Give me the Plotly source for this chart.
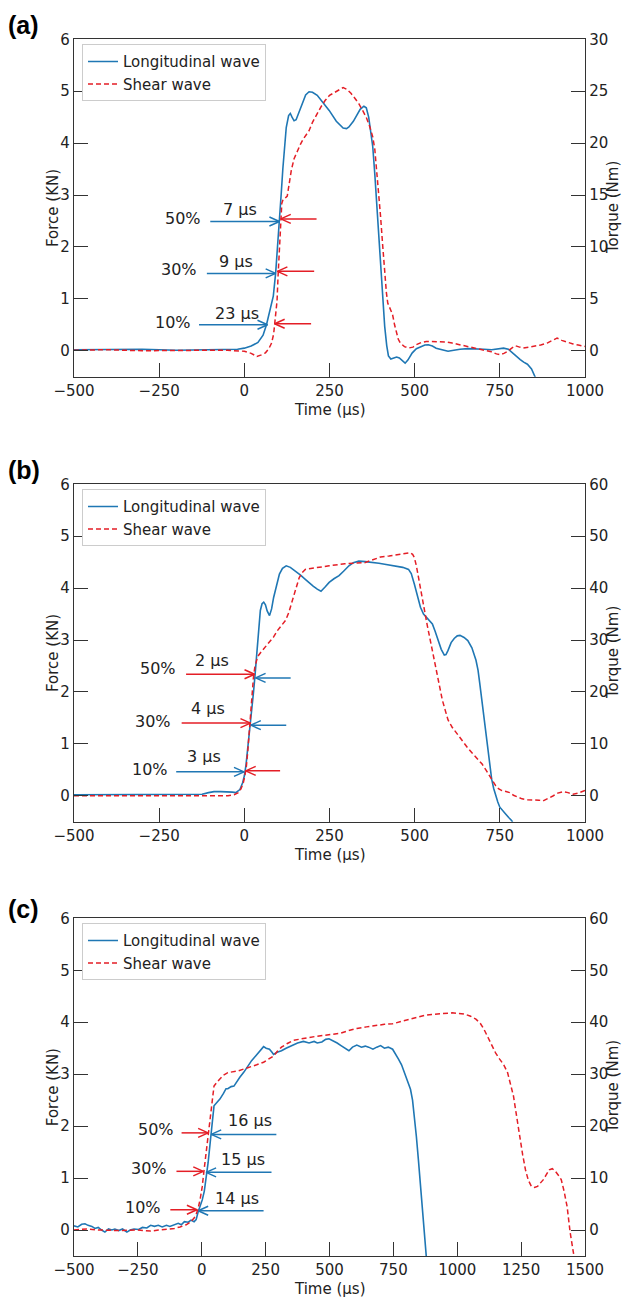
import plotly.graph_objects as go

# ---------------- data (time in µs, force in kN, torque in Nm) ----------------
LONG_A = [(-500,0.02),(-400,0.02),(-300,0.03),(-200,0.01),(-100,0.02),(-50,0.02),(-20,0.03),(0,0.05),(20,0.09),
          (40,0.16),(55,0.3),(65,0.5),(75,0.75),(85,1.05),(92,1.5),(98,2.0),(103,2.5),(108,3.0),(113,3.5),(118,3.95),
          (123,4.3),(130,4.53),(135,4.57),(140,4.5),(146,4.43),(152,4.45),(161,4.6),(170,4.78),(180,4.93),(190,4.99),
          (200,4.98),(214,4.92),(230,4.79),(249,4.63),(270,4.42),(290,4.29),(300,4.28),(307,4.31),(320,4.42),(330,4.54),
          (340,4.65),(351,4.71),(358,4.68),(365,4.5),(372,4.2),(377,3.93),(383,3.4),(388,2.9),(394,2.25),(400,1.62),
          (406,1.0),(412,0.47),(418,0.1),(423,-0.1),(430,-0.16),(440,-0.14),(447,-0.12),(455,-0.14),(461,-0.18),
          (467,-0.22),(472,-0.24),(480,-0.18),(493,-0.04),(505,0.04),(517,0.08),(530,0.11),(540,0.115),(552,0.09),
          (563,0.05),(580,0.02),(598,-0.01),(615,0.01),(633,0.03),(656,0.04),(680,0.04),(703,0.03),(726,0.02),
          (745,0.04),(761,0.05),(775,0.03),(785,-0.03),(796,-0.1),(810,-0.17),(820,-0.22),(831,-0.26),(843,-0.35),
          (854,-0.5),(860,-0.6)]
SHEAR_A = [(-500,0.05),(-400,0.1),(-300,0.0),(-200,0.05),(-100,0.05),(-50,0.05),(-20,0.0),(0,-0.05),(20,-0.25),
           (37,-0.55),(50,-0.4),(62,-0.2),(72,0.2),(80,0.74),(86,1.6),(90,2.7),(93,3.6),(96,4.8),(99,7.2),(103,9.8),
           (107,12.7),(110,14.2),(114,14.6),(120,14.7),(126,14.9),(132,16.1),(138,17.4),(146,18.5),(156,19.3),
           (165,19.9),(173,20.4),(182,20.8),(190,21.2),(200,22.0),(214,22.9),(225,23.5),(237,24.1),(250,24.6),
           (266,24.9),(280,25.2),(290,25.35),(300,25.2),(313,24.8),(325,24.3),(336,23.8),(348,23.1),(359,22.4),
           (368,21.6),(377,20.6),(383,19.4),(388,17.7),(394,15.4),(400,12.9),(406,10.2),(412,7.5),(417,5.6),
           (421,4.6),(428,4.0),(435,3.5),(441,2.5),(447,1.7),(452,1.1),(458,0.74),(470,0.4),(482,0.26),(495,0.35),
           (505,0.58),(520,0.8),(534,0.9),(555,0.9),(575,0.9),(592,0.85),(610,0.74),(630,0.6),(656,0.42),(680,0.25),
           (703,0.1),(725,-0.1),(740,-0.3),(750,-0.38),(762,-0.25),(773,-0.06),(785,0.25),(796,0.48),(808,0.35),
           (819,0.26),(835,0.35),(854,0.42),(870,0.55),(889,0.74),(905,1.0),(918,1.22),(932,1.0),(948,0.8),
           (965,0.65),(980,0.55),(1000,0.42)]

LONG_B = [(-500,0.02),(-400,0.02),(-300,0.02),(-200,0.03),(-150,0.03),(-124,0.03),(-105,0.06),(-89,0.08),(-70,0.08),
          (-54,0.08),(-35,0.07),(-25,0.06),(-13,0.12),(-5,0.25),(0,0.38),(5,0.6),(10,0.89),(16,1.25),(22,1.66),
          (27,2.0),(31,2.29),(35,2.65),(39,3.0),(43,3.3),(47,3.57),(52,3.7),(57,3.73),(62,3.68),(67,3.56),(74,3.47),
          (80,3.6),(86,3.82),(95,4.08),(103,4.27),(112,4.38),(123,4.43),(135,4.4),(150,4.33),(165,4.25),(179,4.17),
          (190,4.1),(202,4.04),(214,3.98),(225,3.94),(237,4.02),(249,4.11),(263,4.18),(278,4.24),(292,4.33),
          (307,4.43),(320,4.49),(336,4.52),(355,4.51),(377,4.5),(395,4.48),(412,4.46),(430,4.44),(447,4.43),
          (465,4.4),(482,4.36),(490,4.28),(499,4.08),(508,3.85),(517,3.63),(526,3.5),(534,3.44),(543,3.38),
          (552,3.31),(560,3.17),(569,2.99),(578,2.82),(587,2.71),(592,2.72),(598,2.8),(607,2.95),(616,3.03),
          (625,3.08),(633,3.09),(645,3.05),(656,2.99),(668,2.85),(680,2.61),(686,2.42),(691,2.17),(697,1.85),
          (703,1.53),(709,1.2),(715,0.89),(720,0.6),(726,0.32),(732,0.14),(738,0.0),(744,-0.12),(750,-0.22),
          (758,-0.29),(767,-0.35),(776,-0.42),(785,-0.48),(790,-0.55)]
SHEAR_B = [(-500,0.0),(-400,0.0),(-300,0.1),(-200,0.1),(-100,0.0),(-48,0.0),(-30,0.2),(-17,0.6),(-10,1.3),(-3,2.5),
           (2,4.0),(6,5.7),(10,8.5),(14,12.1),(18,15.5),(23,20.4),(27,23.0),(31,24.8),(35,26.0),(39,26.8),(48,27.6),
           (57,28.3),(66,29.0),(74,29.6),(86,30.6),(97,31.8),(110,32.8),(121,33.8),(130,35.2),(138,36.9),(144,38.2),
           (150,39.5),(155,40.8),(161,42.0),(170,43.0),(179,43.6),(195,43.8),(214,43.9),(230,44.1),(249,44.3),
           (270,44.5),(295,44.7),(320,44.8),(353,44.9),(375,45.4),(400,46.0),(425,46.2),(447,46.4),(467,46.6),
           (487,46.8),(494,46.5),(499,45.9),(505,44.3),(511,42.0),(520,38.8),(528,35.7),(537,32.8),(546,29.9),
           (555,27.0),(563,24.2),(572,21.3),(581,18.5),(590,16.4),(598,14.6),(610,13.2),(622,12.1),(633,11.1),
           (645,10.2),(656,9.2),(668,8.3),(683,7.2),(698,6.1),(710,4.9),(721,3.8),(730,2.8),(738,1.9),(747,1.3),
           (756,1.0),(768,0.8),(779,0.6),(790,0.1),(802,-0.3),(815,-0.6),(831,-0.76),(850,-0.75),(865,-0.85),
           (877,-1.0),(890,-0.6),(907,0.0),(920,0.5),(936,0.8),(950,0.6),(965,0.3),(980,0.5),(1000,1.0)]

LONG_C = [(-500,0.08),(-485,0.06),(-470,0.11),(-457,0.12),(-445,0.09),(-430,0.07),(-418,0.03),(-405,0.05),(-392,0.0),
          (-379,-0.04),(-365,0.02),(-352,0.0),(-340,0.02),(-325,-0.01),(-310,0.02),(-293,-0.04),(-280,0.0),
          (-265,0.02),(-247,0.01),(-232,0.05),(-215,0.04),(-200,0.09),(-185,0.07),(-170,0.09),(-155,0.06),
          (-138,0.09),(-125,0.07),(-110,0.1),(-92,0.13),(-80,0.1),(-68,0.16),(-53,0.15),(-42,0.19),(-30,0.16),
          (-22,0.2),(-14,0.35),(-6,0.45),(2,0.58),(10,0.75),(17,0.97),(25,1.3),(33,1.68),(40,2.05),(48,2.39),
          (60,2.46),(71,2.52),(85,2.63),(95,2.72),(102,2.72),(115,2.76),(126,2.77),(138,2.87),(149,2.94),
          (165,3.04),(180,3.16),(195,3.26),(211,3.35),(225,3.44),(242,3.53),(252,3.5),(265,3.48),(275,3.42),
          (281,3.38),(295,3.42),(312,3.45),(330,3.5),(351,3.55),(375,3.6),(398,3.63),(420,3.6),(440,3.63),
          (452,3.6),(470,3.62),(485,3.67),(498,3.68),(512,3.65),(530,3.6),(545,3.55),(560,3.5),(576,3.45),
          (590,3.52),(607,3.56),(625,3.52),(640,3.54),(653,3.52),(670,3.48),(685,3.52),(700,3.55),(715,3.5),
          (730,3.52),(747,3.48),(760,3.38),(770,3.29),(782,3.18),(793,3.03),(805,2.9),(817,2.71),(825,2.5),
          (832,2.19),(840,1.8),(848,1.35),(855,0.95),(863,0.52),(871,0.0),(879,-0.52)]
SHEAR_C = [(-500,0.0),(-450,0.2),(-400,0.0),(-325,-0.1),(-250,0.0),(-200,-0.2),(-169,0.0),(-130,0.1),(-107,0.3),
           (-85,0.6),(-61,1.0),(-45,1.5),(-30,2.3),(-22,3.0),(-14,4.2),(-6,6.0),(2,8.4),(9,11.5),(17,14.8),
           (25,18.5),(33,21.9),(40,25.0),(48,27.7),(60,28.5),(71,29.0),(85,29.8),(102,30.3),(120,30.4),(141,30.6),
           (165,31.0),(188,31.3),(215,31.8),(242,32.3),(260,32.8),(281,33.5),(296,34.4),(312,35.2),(335,35.9),
           (359,36.5),(390,36.8),(421,37.1),(450,37.3),(483,37.5),(515,37.7),(545,37.9),(575,38.4),(607,38.8),
           (645,39.1),(684,39.4),(715,39.6),(747,39.7),(778,40.1),(809,40.5),(840,40.9),(871,41.3),(900,41.5),
           (933,41.6),(960,41.8),(980,41.8),(1000,41.7),(1026,41.6),(1050,41.2),(1073,40.6),(1090,39.8),
           (1104,38.7),(1120,37.1),(1135,35.5),(1150,34.1),(1166,32.9),(1182,31.8),(1197,30.3),(1208,28.3),
           (1220,25.8),(1232,22.0),(1244,18.1),(1256,14.5),(1267,11.6),(1278,9.6),(1290,8.4),(1302,8.2),
           (1314,8.4),(1325,9.0),(1337,9.7),(1348,10.6),(1360,11.6),(1372,11.8),(1384,11.3),(1395,10.6),
           (1407,9.7),(1418,7.5),(1430,4.5),(1442,-0.5),(1454,-4.5),(1460,-6.0)]

# rise-time annotations: (text, x, y) in force units
PCT_A = [("50%", -180, 2.55), ("30%", -191, 1.56), ("10%", -209, 0.54)]
DT_A = [("7 µs", -13, 2.72), ("9 µs", -25, 1.72), ("23 µs", -21, 0.71)]
ARR_A = [("blue", -100, 103, 2.49), ("red", 212, 107, 2.54),
         ("blue", -110, 92, 1.49), ("red", 205, 97, 1.53),
         ("blue", -133, 68, 0.50), ("red", 196, 89, 0.52)]
PCT_B = [("50%", -252, 2.45), ("30%", -269, 1.43), ("10%", -278, 0.51)]
DT_B = [("2 µs", -95, 2.61), ("4 µs", -107, 1.69), ("3 µs", -118, 0.75)]
ARR_B = [("red", -171, 30, 2.34), ("blue", 136, 33, 2.27),
         ("red", -184, 18, 1.40), ("blue", 123, 19, 1.36),
         ("blue", -200, -1, 0.46), ("red", 105, 4, 0.48)]
PCT_C = [("50%", -180, 1.94), ("30%", -208, 1.18), ("10%", -231, 0.43)]
DT_C = [("16 µs", 188, 2.10), ("15 µs", 160, 1.35), ("14 µs", 138, 0.61)]
ARR_C = [("red", -79, 25, 1.87), ("blue", 292, 37, 1.84),
         ("red", -99, 6, 1.13), ("blue", 273, 17, 1.11),
         ("red", -123, -19, 0.39), ("blue", 242, -14, 0.37)]

PANEL_LABELS = ["(a)", "(b)", "(c)"]
X_RANGES = [[-500, 1000], [-500, 1000], [-500, 1500]]
X_TICKS = [list(range(-500, 1001, 250)), list(range(-500, 1001, 250)), list(range(-500, 1501, 250))]
TQ_RANGES = [[-2.5, 30], [-5, 60], [-5, 60]]
TQ_TICKS = [list(range(0, 31, 5)), list(range(0, 61, 10)), list(range(0, 61, 10))]
F_RANGE = [-0.5, 6]
F_TICKS = [0, 1, 2, 3, 4, 5, 6]

# ---------------- styling ----------------
W, H = 622, 1300
BLUE = "#1f77b4"
RED = "#e41e26"
AX = "#333333"
TXT = "#222222"
FONT = "DejaVu Sans"
XL, XR = 74, 585
PANEL_PX = [(39.3, 376.7), (484.3, 821.7), (918.3, 1256.0)]
LABEL_Y = [25, 470, 909]

fig = go.Figure()
layout = dict(width=W, height=H, margin=dict(l=0, r=0, t=0, b=0, autoexpand=False),
              paper_bgcolor="white", plot_bgcolor="white", template="none",
              font=dict(family=FONT, size=15, color=TXT), showlegend=True)
annotations = []

panels = [(LONG_A, SHEAR_A, PCT_A, DT_A, ARR_A), (LONG_B, SHEAR_B, PCT_B, DT_B, ARR_B),
          (LONG_C, SHEAR_C, PCT_C, DT_C, ARR_C)]

for i, (lg, sh, pct, dt, arr) in enumerate(panels):
    top, bot = PANEL_PX[i]
    xn = "x" if i == 0 else f"x{i+1}"
    yl = "y" if i == 0 else f"y{2*i+1}"
    yr = f"y{2*i+2}"
    leg = "legend" if i == 0 else f"legend{i+1}"
    xkey = "xaxis" if i == 0 else f"xaxis{i+1}"
    ylkey = "yaxis" if i == 0 else f"yaxis{2*i+1}"
    yrkey = f"yaxis{2*i+2}"
    dom_y = [1 - bot / H, 1 - top / H]

    fig.add_trace(go.Scatter(x=[p[0] for p in lg], y=[p[1] for p in lg], mode="lines",
                             name="Longitudinal wave", line=dict(color=BLUE, width=1.6),
                             xaxis=xn, yaxis=yl, legend=leg))
    fig.add_trace(go.Scatter(x=[p[0] for p in sh], y=[p[1] for p in sh], mode="lines",
                             name="Shear wave", line=dict(color=RED, width=1.5, dash="5px,3px"),
                             xaxis=xn, yaxis=yr, legend=leg))

    # arrows drawn from the annotation lists, barbs sized in pixels via the axis scales
    sx = (XR - XL) / (X_RANGES[i][1] - X_RANGES[i][0])
    sy = (bot - top) / (F_RANGE[1] - F_RANGE[0])
    for col in ("blue", "red"):
        xs, ys = [], []
        for c, x0, x1, y in arr:
            if c != col:
                continue
            d = 1 if x1 > x0 else -1
            bx = x1 - d * 10 / sx
            dy = 4.5 / sy
            xs += [x0, x1, None, bx, x1, bx, None]
            ys += [y, y, None, y + dy, y, y - dy, None]
        fig.add_trace(go.Scatter(x=xs, y=ys, mode="lines", showlegend=False, hoverinfo="skip",
                                 line=dict(color=BLUE if col == "blue" else RED, width=1.5),
                                 xaxis=xn, yaxis=yl))

    for t, x, y in pct + dt:
        annotations.append(dict(text=t, x=x, y=y, xref=xn, yref=yl, showarrow=False,
                                font=dict(size=16, color=TXT, family=FONT),
                                xanchor="center", yanchor="middle"))

    axis_common = dict(showgrid=False, zeroline=False, showline=True, linecolor=AX, linewidth=1.3,
                       ticks="inside", ticklen=14, tickwidth=1.3, tickcolor=AX, automargin=False,
                       tickfont=dict(size=15, color=TXT, family=FONT))
    layout[xkey] = dict(axis_common, domain=[XL / W, XR / W], range=X_RANGES[i], tickvals=X_TICKS[i],
                        ticktext=[str(v).replace("-", "\u2212") for v in X_TICKS[i]],
                        anchor=yl, mirror=True)
    layout[ylkey] = dict(axis_common, domain=dom_y, range=F_RANGE, tickvals=F_TICKS, anchor=xn)
    layout[yrkey] = dict(axis_common, range=TQ_RANGES[i], tickvals=TQ_TICKS[i], overlaying=yl,
                         side="right", anchor=xn)
    layout[leg] = dict(x=82 / W, y=1 - (top + 5) / H, xanchor="left", yanchor="top",
                       bordercolor="#cccccc", borderwidth=1, bgcolor="white",
                       font=dict(size=15, color=TXT, family=FONT), tracegroupgap=0, itemwidth=30)

    annotations.append(dict(text=f"<b>{PANEL_LABELS[i]}</b>", x=6 / W, y=1 - LABEL_Y[i] / H,
                            xref="paper", yref="paper", showarrow=False, xanchor="left",
                            yanchor="middle", font=dict(size=25, color="black", family="Liberation Sans")))
    annotations.append(dict(text="Time (µs)", x=(XL + XR) / 2 / W, y=1 - (bot + 33) / H, xref="paper",
                            yref="paper", showarrow=False, xanchor="center", yanchor="middle",
                            font=dict(size=15, color=TXT, family=FONT)))
    annotations.append(dict(text="Force (KN)", x=53 / W, y=1 - (top + bot) / 2 / H, xref="paper",
                            yref="paper", showarrow=False, textangle=-90, xanchor="center",
                            yanchor="middle", font=dict(size=15, color=TXT, family=FONT)))
    annotations.append(dict(text="Torque (Nm)", x=613 / W, y=1 - (top + bot) / 2 / H, xref="paper",
                            yref="paper", showarrow=False, textangle=-90, xanchor="center",
                            yanchor="middle", font=dict(size=15, color=TXT, family=FONT)))

layout["annotations"] = annotations
fig.update_layout(**layout)
fig.write_html("out.html", config={"displayModeBar": False},
               post_script="document.body.style.margin='0';")
